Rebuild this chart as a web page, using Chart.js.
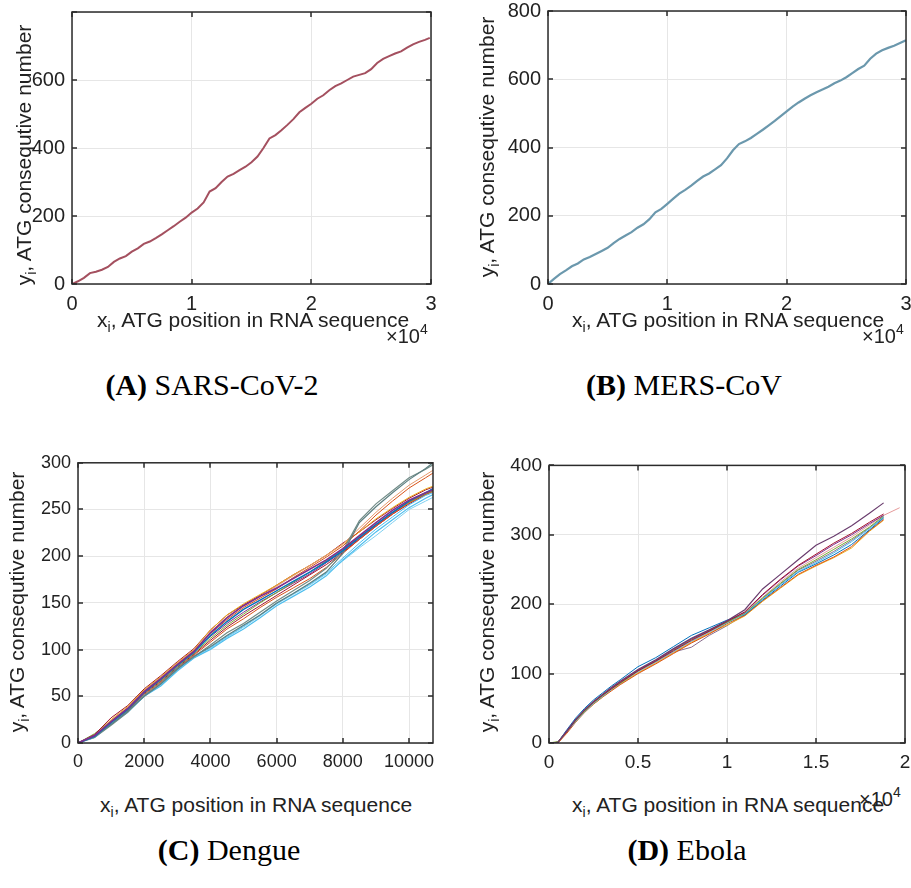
<!DOCTYPE html>
<html>
<head>
<meta charset="utf-8">
<script src="https://cdn.jsdelivr.net/npm/chart.js@4"></script>
<style>
body{margin:0;width:911px;height:888px;overflow:hidden;background:#fff;position:relative;font-family:'Liberation Sans',Arial,sans-serif;color:#222}
canvas{position:absolute}
.ytitle{position:absolute;font-size:21px;line-height:1;white-space:nowrap;transform:translate(-50%,-50%) rotate(-90deg)}
.xtitle{position:absolute;font-size:21px;line-height:1;white-space:nowrap}
.exp{position:absolute;font-size:20px;line-height:1;white-space:nowrap}
.cap{position:absolute;font-family:'Liberation Serif','Times New Roman',serif;font-size:30px;line-height:1;white-space:nowrap;transform:translateX(-50%);color:#000}
sub{font-size:14px;vertical-align:-5px}
sup{font-size:14px;vertical-align:9px}
</style>
</head>
<body>
<canvas id="sars" width="450" height="327" style="left:0;top:-7px"></canvas>
<canvas id="mers" width="443" height="328" style="left:488px;top:-8px"></canvas>
<canvas id="dengue" width="452" height="334" style="left:0;top:445px"></canvas>
<canvas id="ebola" width="437" height="332" style="left:488px;top:447px"></canvas>

<div class="ytitle" style="left:25px;top:155px">y<sub>i</sub>, ATG consequtive number</div>
<div class="ytitle" style="left:488px;top:147px">y<sub>i</sub>, ATG consequtive number</div>
<div class="ytitle" style="left:18px;top:602px">y<sub>i</sub>, ATG consequtive number</div>
<div class="ytitle" style="left:488px;top:602px">y<sub>i</sub>, ATG consequtive number</div>

<div class="xtitle" style="left:97px;top:309px">x<sub>i</sub>, ATG position in RNA sequence</div>
<div class="xtitle" style="left:572px;top:309px">x<sub>i</sub>, ATG position in RNA sequence</div>
<div class="xtitle" style="left:100px;top:794px">x<sub>i</sub>, ATG position in RNA sequence</div>
<div class="xtitle" style="left:572px;top:794px">x<sub>i</sub>, ATG position in RNA sequence</div>

<div class="exp" style="left:386px;top:322px">&times;10<sup>4</sup></div>
<div class="exp" style="left:862px;top:322px">&times;10<sup>4</sup></div>
<div class="exp" style="left:859px;top:785px">&times;10<sup>4</sup></div>

<div class="cap" style="left:212px;top:370px"><b>(A)</b> SARS-CoV-2</div>
<div class="cap" style="left:684px;top:370px"><b>(B)</b> MERS-CoV</div>
<div class="cap" style="left:229px;top:835px"><b>(C)</b> Dengue</div>
<div class="cap" style="left:687px;top:835px"><b>(D)</b> Ebola</div>

<script>
// (A) SARS-CoV-2
var sarsX = [0,500,1000,1500,2000,2500,3000,3500,4000,4500,5000,5500,6000,6500,7000,7500,8000,8500,9000,9500,
  10000,10500,11000,11500,12000,12500,13000,13500,14000,14500,15000,15500,16000,16500,17000,17500,18000,18500,19000,19500,
  20000,20500,21000,21500,22000,22500,23000,23500,24000,24500,25000,25500,26000,26500,27000,27500,28000,28500,29000,29500,29900];
var sarsY = [0,8,18,32,36,42,50,65,75,82,95,105,118,125,135,146,158,170,183,195,
  210,222,240,272,282,300,316,324,335,345,358,375,400,428,438,452,468,485,505,518,
  530,545,555,570,582,590,600,610,615,620,632,650,662,670,678,684,695,705,712,718,724];

// (B) MERS-CoV
var mersX = [0,500,1000,1500,2000,2500,3000,3500,4000,4500,5000,5500,6000,6500,7000,7500,8000,8500,9000,9500,
  10000,10500,11000,11500,12000,12500,13000,13500,14000,14500,15000,15500,16000,16500,17000,17500,18000,18500,19000,19500,
  20000,20500,21000,21500,22000,22500,23000,23500,24000,24500,25000,25500,26000,26500,27000,27500,28000,28500,29000,29500,30000];
var mersY = [0,15,29,40,52,60,72,79,88,97,106,120,132,142,152,165,175,190,210,220,
  235,250,265,276,288,302,315,324,336,348,368,392,410,418,428,440,452,465,478,492,
  506,520,532,543,553,562,570,578,588,596,606,618,630,640,660,675,685,692,698,706,714];

// (C) Dengue
var dengueX = [0,500,1000,1500,2000,2500,3000,3500,4000,4500,5000,5500,6000,6500,7000,7500,8000,8500,9000,9500,10000,10500,10723];
var denguePurple  = [0,8,23,37,55,69,84,98,118,134,147,157,166,176,186,196,208,222,236,249,260,268,271];
var dengueBlue    = [0,7,22,36,54,68,83,97,115,130,143,153,163,173,183,194,206,220,234,247,259,268,272];
var dengueGreyA   = [0,7,20,34,50,63,79,93,103,115,126,137,150,160,171,183,203,236,253,268,282,294,300];
var dengueGreyB   = [0,6,19,33,51,64,80,92,105,118,128,140,152,163,174,187,206,238,256,270,284,293,298];
var dengueOrangeA = [0,8,24,38,56,70,85,99,119,135,147,157,168,179,190,201,213,230,247,262,276,287,292];
var dengueOrangeB = [0,7,22,36,55,68,84,98,117,132,145,155,165,177,188,199,211,227,244,259,273,284,289];
var dengueYellow  = [0,8,25,39,57,71,86,100,121,137,149,159,169,180,190,201,213,226,240,252,263,272,275];
var dengueRed     = [0,9,27,40,58,72,87,101,121,137,148,158,169,180,190,201,214,226,239,251,262,271,274];
var dengueGreen   = [0,10,24,37,54,67,82,96,112,126,138,150,161,172,183,195,207,221,234,247,258,267,270];
var dengueLightA  = [0,6,20,33,50,61,77,91,100,112,122,134,147,157,167,179,196,211,226,239,252,262,266];
var dengueLightB  = [0,7,21,34,51,63,79,92,102,114,125,137,149,160,170,182,198,214,229,242,255,265,268];
var dengueLightC  = [0,6,20,33,50,62,78,91,101,113,124,136,149,159,169,181,195,209,222,236,250,259,263];
var dengueOrangeC = [0,7,21,35,52,65,80,94,108,122,133,145,156,166,176,188,203,218,232,245,257,266,269];
var dengueDarkRed = [0,8,22,35,53,66,81,95,110,124,136,147,158,169,180,191,204,218,232,245,256,266,270];
var denguePurpleB = [0,8,23,37,56,70,85,99,114,128,140,151,161,171,181,193,205,219,233,246,258,267,273];

// (D) Ebola
var ebolaX = [0,500,1000,1500,2000,2500,3000,3500,4000,5000,6000,7000,8000,9000,10000,11000,12000,13000,14000,15000,16000,17000,18000,18800,19700];
var ebolaDark   = [0,1,17,34,48,60,70,80,89,106,120,136,151,163,176,192,222,243,264,285,298,313,331,346,null];
var ebolaRed    = [0,1,16,33,47,59,69,78,87,104,118,133,148,161,175,189,214,236,256,272,288,302,318,330,null];
var ebolaPurple = [0,1,18,34,47,59,69,79,88,105,119,135,150,162,176,188,213,235,255,270,286,300,316,328,null];
var ebolaGreen  = [0,2,17,32,46,58,68,78,86,104,118,134,149,161,174,187,209,230,250,264,279,294,311,327,null];
var ebolaLight  = [0,1,16,31,45,57,67,77,86,103,117,132,147,160,173,186,207,228,247,260,274,290,309,326,null];
var ebolaBlue   = [0,1,19,36,50,62,72,82,91,110,123,139,155,166,177,185,206,226,246,258,271,286,307,324,null];
var ebolaOrange = [0,0,14,30,44,56,66,75,84,100,114,129,144,157,172,184,205,224,243,256,268,283,306,322,null];
var ebolaYellow = [0,0,15,31,45,56,66,76,85,101,115,130,145,158,170,183,204,223,242,255,267,281,305,321,null];
var ebolaPink   = [0,1,16,32,46,58,68,77,86,102,116,131,146,159,173,186,210,232,252,267,282,297,314,328,339];
var ebolaMauve  = [0,1,17,33,47,58,68,77,86,103,117,131,138,155,169,185,208,229,249,262,276,292,310,325,null];

// tick values and labels
var sarsXTicks = [0,10000,20000,30000];
var sarsXLabels = ['0','1','2','3'];
var atgYTicks = [0,200,400,600,800];
var sarsYLabels = ['0','200','400','600',''];
var mersYLabels = ['0','200','400','600','800'];
var dengueXTicks = [0,2000,4000,6000,8000,10000];
var dengueXLabels = ['0','2000','4000','6000','8000','10000'];
var dengueYTicks = [0,50,100,150,200,250,300];
var dengueYLabels = ['0','50','100','150','200','250','300'];
var ebolaXTicks = [0,5000,10000,15000,20000];
var ebolaXLabels = ['0','0.5','1','1.5','2'];
var ebolaYTicks = [0,100,200,300,400];
var ebolaYLabels = ['0','100','200','300','400'];

Chart.defaults.font.family = "'Liberation Sans', Arial, sans-serif";
Chart.defaults.color = '#222';

// matlab style box with inward ticks
var matlabFrame = {
  id: 'matlabFrame',
  afterDraw: function(chart) {
    var ctx = chart.ctx, a = chart.chartArea, sx = chart.scales.x, sy = chart.scales.y;
    ctx.save();
    ctx.strokeStyle = '#2b2b2b';
    ctx.lineWidth = 1.5;
    ctx.beginPath();
    sx.ticks.forEach(function(t) {
      var p = Math.round(sx.getPixelForValue(t.value));
      ctx.moveTo(p, a.bottom); ctx.lineTo(p, a.bottom - 5);
      ctx.moveTo(p, a.top); ctx.lineTo(p, a.top + 5);
    });
    sy.ticks.forEach(function(t) {
      var p = Math.round(sy.getPixelForValue(t.value));
      ctx.moveTo(a.left, p); ctx.lineTo(a.left + 5, p);
      ctx.moveTo(a.right, p); ctx.lineTo(a.right - 5, p);
    });
    ctx.stroke();
    ctx.strokeRect(a.left, a.top, a.right - a.left, a.bottom - a.top);
    ctx.restore();
  }
};

function line(xs, ys, color, width) {
  return {
    data: xs.map(function(x, i) { return {x: x, y: ys[i]}; }),
    borderColor: color,
    borderWidth: width,
    pointRadius: 0,
    fill: false,
    tension: 0
  };
}

function makeChart(id, datasets, o) {
  return new Chart(document.getElementById(id), {
    type: 'line',
    data: { datasets: datasets },
    options: {
      responsive: false,
      animation: false,
      events: [],
      layout: { padding: { top: o.padTop, right: o.padRight, left: 0, bottom: 0 } },
      plugins: { legend: { display: false }, tooltip: { enabled: false } },
      scales: {
        x: {
          type: 'linear', min: 0, max: o.xMax,
          afterBuildTicks: function(s) { s.ticks = o.xTicks.map(function(v) { return {value: v}; }); },
          afterFit: function(s) { s.height = 36; },
          ticks: { padding: 8, autoSkip: false, maxRotation: 0, font: { size: o.fs },
                   callback: function(v, i) { return o.xLabels[i]; } },
          grid: { color: '#e6e6e6', drawTicks: false },
          border: { display: false }
        },
        y: {
          type: 'linear', min: 0, max: o.yMax,
          afterBuildTicks: function(s) { s.ticks = o.yTicks.map(function(v) { return {value: v}; }); },
          afterFit: function(s) { s.width = o.yW; },
          ticks: { padding: 7, autoSkip: false, font: { size: o.fs },
                   callback: function(v, i) { return o.yLabels[i]; } },
          grid: { color: '#e6e6e6', drawTicks: false },
          border: { display: false }
        }
      }
    },
    plugins: [matlabFrame]
  });
}

makeChart('sars', [line(sarsX, sarsY, '#a4505f', 2)], {
  padTop: 12, padRight: 19, yW: 72, xMax: 30000, yMax: 800, fs: 20,
  xTicks: sarsXTicks, xLabels: sarsXLabels, yTicks: atgYTicks, yLabels: sarsYLabels
});

makeChart('mers', [line(mersX, mersY, '#6b98ad', 2.2)], {
  padTop: 14, padRight: 25, yW: 60, xMax: 30000, yMax: 800, fs: 20,
  xTicks: sarsXTicks, xLabels: sarsXLabels, yTicks: atgYTicks, yLabels: mersYLabels
});

makeChart('dengue', [
  line(dengueX, denguePurple, '#7E2F8E', 1.6),
  line(dengueX, dengueBlue, '#0072BD', 1.4),
  line(dengueX, dengueGreyA, '#5d7f80', 1.2),
  line(dengueX, dengueGreyB, '#728c88', 1.2),
  line(dengueX, dengueOrangeA, '#e49a6e', 1),
  line(dengueX, dengueOrangeB, '#D95319', 1),
  line(dengueX, dengueYellow, '#EDB120', 1),
  line(dengueX, dengueRed, '#A2142F', 1),
  line(dengueX, dengueGreen, '#77AC30', 1),
  line(dengueX, dengueLightA, '#4DBEEE', 1.2),
  line(dengueX, dengueLightB, '#4DBEEE', 1),
  line(dengueX, dengueLightC, '#7fd0f0', 1),
  line(dengueX, dengueOrangeC, '#D95319', 1),
  line(dengueX, dengueDarkRed, '#A2142F', 1),
  line(dengueX, denguePurpleB, '#7E2F8E', 1)
], {
  padTop: 14, padRight: 19, yW: 78, xMax: 10723, yMax: 300, fs: 18,
  xTicks: dengueXTicks, xLabels: dengueXLabels, yTicks: dengueYTicks, yLabels: dengueYLabels
});

makeChart('ebola', [
  line(ebolaX, ebolaDark, '#6a3d6e', 1.2),
  line(ebolaX, ebolaRed, '#A2142F', 1),
  line(ebolaX, ebolaPurple, '#7E2F8E', 1),
  line(ebolaX, ebolaGreen, '#77AC30', 1),
  line(ebolaX, ebolaLight, '#4DBEEE', 1),
  line(ebolaX, ebolaBlue, '#0072BD', 1),
  line(ebolaX, ebolaOrange, '#D95319', 1),
  line(ebolaX, ebolaYellow, '#EDB120', 1),
  line(ebolaX, ebolaPink, '#e59a9a', 1),
  line(ebolaX, ebolaMauve, '#8a6f8f', 1)
], {
  padTop: 14, padRight: 20, yW: 61, xMax: 20000, yMax: 400, fs: 19,
  xTicks: ebolaXTicks, xLabels: ebolaXLabels, yTicks: ebolaYTicks, yLabels: ebolaYLabels
});
</script>
</body>
</html>
